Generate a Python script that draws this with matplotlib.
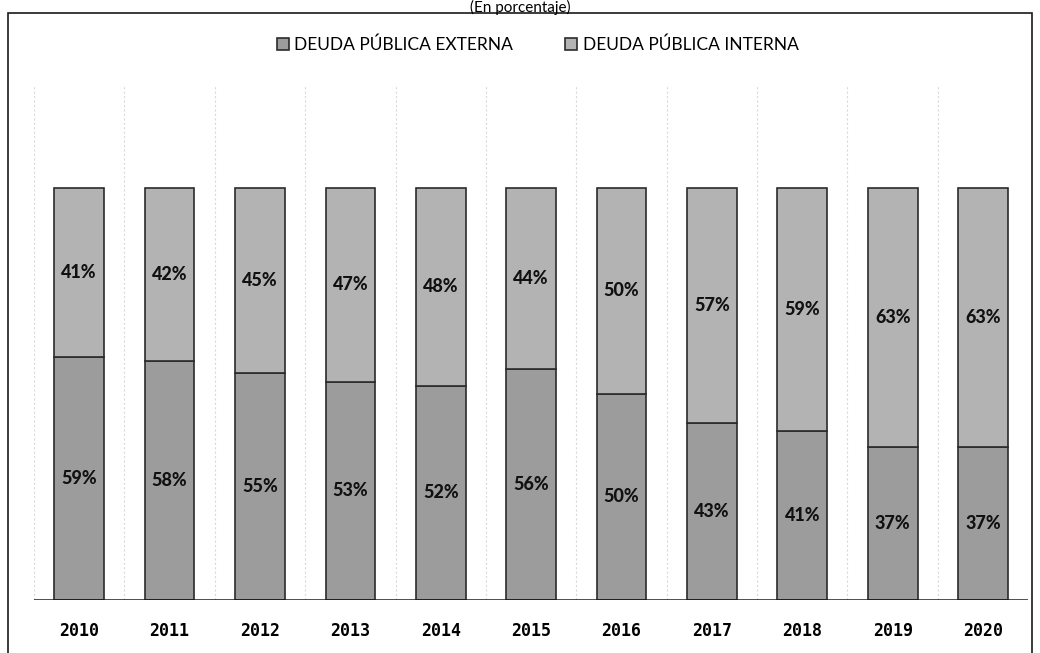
import matplotlib
matplotlib.use("Agg")
import matplotlib.pyplot as plt
import matplotlib.patches as mpatches
import numpy as np

years = ["2010", "2011", "2012", "2013", "2014", "2015",
         "2016", "2017", "2018", "2019", "2020"]
externa = [59, 58, 55, 53, 52, 56, 50, 43, 41, 37, 37]
interna = [41, 42, 45, 47, 48, 44, 50, 57, 59, 63, 63]

C_EXT = "#9c9c9c"
C_INT = "#b3b3b3"
EDGE = "#2b2b2b"
LBL_FONT = ["Lato", "DejaVu Sans"]

fig = plt.figure(figsize=(10.4, 6.53), dpi=100)
ax = fig.add_axes([0.0327, 0.0812, 0.956, 0.789])

x = np.arange(len(years))
w = 0.55
b1 = ax.bar(x, externa, width=w, color=C_EXT, edgecolor=EDGE, linewidth=1.2,
            label="DEUDA PÚBLICA EXTERNA", zorder=3)
b2 = ax.bar(x, interna, width=w, bottom=externa, color=C_INT, edgecolor=EDGE,
            linewidth=1.2, label="DEUDA PÚBLICA INTERNA", zorder=3)

for xi, e, i in zip(x, externa, interna):
    ax.text(xi, e / 2, f"{e}%", ha="center", va="center", fontsize=13,
            fontweight=900, color="#111111", family=LBL_FONT, zorder=4)
    ax.text(xi, e + i / 2, f"{i}%", ha="center", va="center", fontsize=13,
            fontweight=900, color="#111111", family=LBL_FONT, zorder=4)

ax.set_xlim(-0.5, len(years) - 0.5)
ax.set_ylim(0, 125)
for b in np.arange(-0.5, len(years), 1.0):
    ax.axvline(b, color="#d9d9d9", linewidth=0.8, linestyle=(0, (2, 2)), zorder=1)
ax.axhline(0, color="#1a1a1a", linewidth=1.8, zorder=5)

ax.set_xticks(x)
ax.set_xticklabels(years, fontsize=12, fontweight="bold", family="DejaVu Sans Mono")
ax.tick_params(axis="x", length=0, pad=16)
ax.set_yticks([])
for s in ax.spines.values():
    s.set_visible(False)

fig.legend(handles=[b1, b2], loc="center", bbox_to_anchor=(0.517, 0.931),
           ncol=2, frameon=False, handlelength=0.7, handleheight=0.7,
           handletextpad=0.3, columnspacing=3.0, prop={"family": LBL_FONT, "size": 12.5})

# outer frame of the chart
fig.patches.append(mpatches.Rectangle((8 / 1040, -0.01), 1024 / 1040, 1 - 13 / 653 + 0.01,
                                      transform=fig.transFigure, fill=False,
                                      edgecolor="#1a1a1a", linewidth=1.2))
fig.text(0.5, 0.9995, "(En porcentaje)", ha="center", va="top", fontsize=11,
         family=LBL_FONT)

fig.savefig("out.png", dpi=100)
